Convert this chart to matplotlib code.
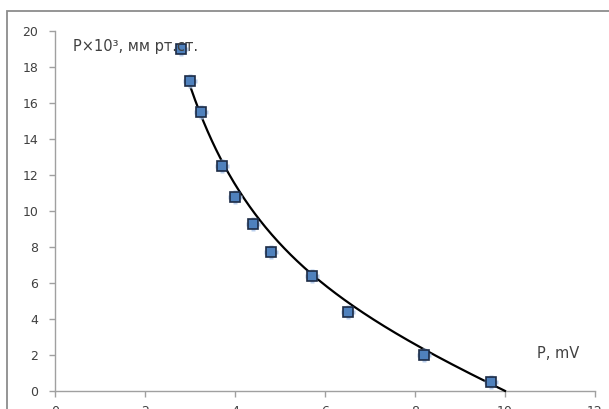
import numpy as np
import matplotlib
matplotlib.use("Agg")
import matplotlib.pyplot as plt
from matplotlib.patches import Rectangle

# measured points
p_mv = [2.8, 3.0, 3.25, 3.7, 4.0, 4.4, 4.8, 5.7, 6.5, 8.2, 9.7]
p_mmhg = [19.0, 17.2, 15.5, 12.5, 10.8, 9.3, 7.7, 6.4, 4.4, 2.0, 0.5]

# trend line
trend_x = [3.02, 3.24, 3.68, 4.0, 4.59, 5.7, 6.5, 8.2, 10.0]
trend_y = [16.8, 15.5, 12.5, 11.7, 9.5, 6.44, 4.9, 2.35, 0.0]

xticks = [0, 2, 4, 6, 8, 10, 12]
yticks = [0, 2, 4, 6, 8, 10, 12, 14, 16, 18, 20]

W, H = 609, 409
fig = plt.figure(figsize=(W / 100, H / 100), dpi=100)
fig.patch.set_facecolor("white")

# chart area border
fig.patches.append(Rectangle((7 / W, -0.1), 1.2, 1 - 11.5 / H + 0.1,
                             transform=fig.transFigure, fill=False,
                             edgecolor="#8c8c8c", linewidth=1.3))

ax = fig.add_axes([55 / W, (H - 391) / H, 540 / W, 360 / H])
ax.set_xlim(0, 12)
ax.set_ylim(0, 20)
ax.set_xticks(xticks)
ax.set_yticks(yticks)
for s in ["top", "right"]:
    ax.spines[s].set_visible(False)
for s in ["left", "bottom"]:
    ax.spines[s].set_color("#a0a0a0")
    ax.spines[s].set_linewidth(1.0)
ax.tick_params(axis="both", direction="out", length=4, width=1.0,
               color="#a0a0a0", labelcolor="#404040", labelsize=9)
ax.tick_params(axis="x", pad=6)
ax.tick_params(axis="y", pad=8)

# trend curve (cubic in ln x fitted to read points)
coef = np.polyfit(np.log(trend_x), trend_y, 3)
xs = np.linspace(trend_x[0], trend_x[-1], 300)
ax.plot(xs, np.polyval(coef, np.log(xs)), color="black", linewidth=1.6,
        zorder=3, clip_on=False)

# halo + markers
ax.plot(p_mv, p_mmhg, linestyle="none", marker="P", markersize=10,
        markerfacecolor="#a9c4ea", markeredgecolor="none", alpha=0.8,
        zorder=4, clip_on=False)
ax.plot(p_mv, p_mmhg, linestyle="none", marker="s", markersize=7,
        markerfacecolor="#4f81bd", markeredgecolor="#1c2b45",
        markeredgewidth=1.2, zorder=5, clip_on=False)

fig.text(73 / W, 1 - 47 / H, "P×10³, мм рт.ст.", fontsize=10.5,
         color="#404040", va="center", ha="left")
fig.text(537 / W, 1 - 354 / H, "P, mV", fontsize=10.5,
         color="#404040", va="center", ha="left")

fig.savefig("out.png", dpi=100)
